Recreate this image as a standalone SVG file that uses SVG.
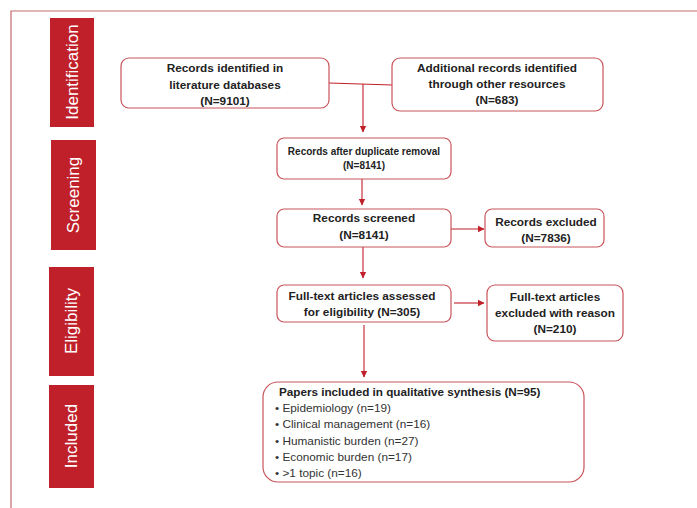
<svg xmlns="http://www.w3.org/2000/svg" width="697" height="508" viewBox="0 0 697 508">
<defs>
<marker id="ah" markerWidth="8" markerHeight="8" refX="6" refY="4" orient="auto" markerUnits="userSpaceOnUse">
<path d="M0,0.8 L6.5,4 L0,7.2 Z" fill="#c0202a"/>
</marker>
</defs>
<style>
.frame{fill:none;stroke:#c46a6e;stroke-width:1.2}
.phase rect{fill:#c0202a}
.phase text{fill:#fff;font-family:"Liberation Sans",Arial,sans-serif;font-size:17px;text-anchor:middle;dominant-baseline:central}
.box{fill:#fff;stroke:#c9545a;stroke-width:1.2}
.t{font-family:"Liberation Sans",Arial,sans-serif;font-weight:bold;font-size:11.8px;fill:#222;text-anchor:middle}
.ts{font-size:10px}
.b{font-family:"Liberation Sans",Arial,sans-serif;font-size:11.8px;fill:#333}
.bt{font-family:"Liberation Sans",Arial,sans-serif;font-weight:bold;font-size:11.7px;fill:#222}
.c{fill:none;stroke:#c0202a;stroke-width:1.1}
</style>
<rect width="697" height="508" fill="#fff"/>
<path class="frame" d="M11,508 L11,11 L697,11"/>
<g id="phase-identification" class="phase"><rect x="50" y="18" width="44" height="109"/><text transform="translate(72,72) rotate(-90)">Identification</text></g>
<g id="phase-screening" class="phase"><rect x="51" y="140" width="45" height="110"/><text transform="translate(73,195) rotate(-90)">Screening</text></g>
<g id="phase-eligibility" class="phase"><rect x="49" y="267" width="45" height="109"/><text transform="translate(71.5,321) rotate(-90)">Eligibility</text></g>
<g id="phase-included" class="phase"><rect x="49" y="385" width="45" height="103"/><text transform="translate(71.5,436) rotate(-90)">Included</text></g>
<g id="connectors">
<path class="c" d="M329,83 L392,85"/>
<path class="c" d="M363,84 L363,132" marker-end="url(#ah)"/>
<path class="c" d="M362,179 L362,205" marker-end="url(#ah)"/>
<path class="c" d="M451,229 L484,229" marker-end="url(#ah)"/>
<path class="c" d="M363,247 L363,278" marker-end="url(#ah)"/>
<path class="c" d="M454,303 L484,303" marker-end="url(#ah)"/>
<path class="c" d="M364,325 L364,377" marker-end="url(#ah)"/>
</g>
<g id="n-literature"><rect class="box" x="121" y="58" width="208" height="50" rx="8"/><text class="t" x="225" y="72">Records identified in</text><text class="t" x="225" y="89">literature databases</text><text class="t" x="225" y="105">(N=9101)</text></g>
<g id="n-additional"><rect class="box" x="392" y="58" width="211" height="53" rx="8"/><text class="t" x="497" y="72">Additional records identified</text><text class="t" x="497" y="88">through other resources</text><text class="t" x="497" y="104">(N=683)</text></g>
<g id="n-dedup"><rect class="box" x="277" y="138" width="174" height="41" rx="7"/><text class="t ts" x="364" y="155">Records after duplicate removal</text><text class="t ts" x="364" y="169">(N=8141)</text></g>
<g id="n-screened"><rect class="box" x="277" y="209" width="174" height="38" rx="7"/><text class="t" x="364" y="222">Records screened</text><text class="t" x="364" y="239">(N=8141)</text></g>
<g id="n-excluded"><rect class="box" x="485" y="209" width="119" height="38" rx="7"/><text class="t" x="546" y="226">Records excluded</text><text class="t" x="546" y="242">(N=7836)</text></g>
<g id="n-fulltext"><rect class="box" x="277" y="285" width="174" height="37" rx="7"/><text class="t" x="362" y="300">Full-text articles assessed</text><text class="t" x="362" y="316">for eligibility (N=305)</text></g>
<g id="n-ft-excluded"><rect class="box" x="487" y="285" width="136" height="56" rx="8"/><text class="t" x="555" y="301">Full-text articles</text><text class="t" x="555" y="317">excluded with reason</text><text class="t" x="555" y="333">(N=210)</text></g>
<g id="n-included"><rect class="box" x="263" y="382" width="321" height="100" rx="15"/>
<text class="bt" x="279" y="396">Papers included in qualitative synthesis (N=95)</text>
<text class="b" x="275" y="412">• Epidemiology (n=19)</text>
<text class="b" x="275" y="428">• Clinical management (n=16)</text>
<text class="b" x="275" y="445">• Humanistic burden (n=27)</text>
<text class="b" x="275" y="461">• Economic burden (n=17)</text>
<text class="b" x="275" y="477">• &gt;1 topic (n=16)</text>
</g>
</svg>
